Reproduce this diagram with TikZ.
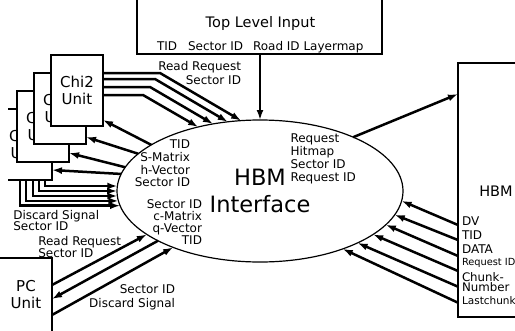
\documentclass[tikz,border=0pt]{standalone}
\usepackage{fontspec}
\setmainfont{DejaVu Sans}
\usetikzlibrary{arrows.meta,shapes.geometric}
\begin{document}
\begin{tikzpicture}[x=1pt,y=-1pt,
  outline/.style={draw, line width=1.3pt, inner sep=0pt, outer sep=0pt},
  unitbox/.style={outline, fill=white, minimum width=52pt, minimum height=71pt,
    align=center, font=\fontsize{15}{17.7}\selectfont},
  flow/.style={line width=2.5pt, -{Latex[length=10pt,width=7pt]}},
  lbl/.style={inner sep=0pt, outer sep=0pt},
  fs/.style={font=\fontsize{12}{#1}\selectfont},
]
\fill[white] (0,0) rectangle (515,330);
\useasboundingbox (0,0) rectangle (515,330);

% ---- top level input block (open at the top edge)
\node[outline, minimum width=245pt, minimum height=61pt] (tli) at (259.5,23.5) {};
\node[lbl, font=\fontsize{14.5}{17}\selectfont, anchor=north] (tlititle) at (260.5,16.3) {Top Level Input};
\node[lbl, font=\fontsize{12}{14}\selectfont, anchor=north west] (tlitid) at (157,41.7) {TID};
\node[lbl, font=\fontsize{12}{14}\selectfont, anchor=north west] (tlisec) at (188,41.7) {Sector ID};
\node[lbl, font=\fontsize{12}{14}\selectfont, anchor=north west] (tliroad) at (253,41.7) {Road ID Layermap};

% ---- HBM memory block (runs off the right edge)
\node[outline, minimum width=72pt, minimum height=254pt] (mem) at (494,190) {};
\node[lbl, font=\fontsize{14.5}{17}\selectfont] (memtitle) at (496,191) {HBM};
\node[lbl, fs=13, anchor=north west] (memdv) at (462,216.7) {DV};
\node[lbl, fs=13, anchor=north west] (memtid) at (462,231) {TID};
\node[lbl, fs=13, anchor=north west] (memdata) at (462,245) {DATA};
\node[lbl, font=\fontsize{9.8}{11}\selectfont, anchor=north west] (memreq) at (462,258.5) {Request ID};
\node[lbl, font=\fontsize{11.8}{10.5}\selectfont, anchor=north west, align=left] (memchunk) at (462,272.3) {Chunk-\\Number};
\node[lbl, font=\fontsize{10.5}{12}\selectfont, anchor=north west] (memlast) at (462,296.4) {Lastchunk};

% ---- stacked Chi2 units, back to front
\node[unitbox, draw=none] (b4) at (26,144.5) {Chi2\\Unit};
\draw[line width=1.3pt] ([xshift=8pt]b4.north west) -- (b4.north east) -- (b4.south east) -- ([xshift=8pt]b4.south west);
\node[unitbox] (b3) at (43,126.5) {Chi2\\Unit};
\node[unitbox] (b2) at (60,108.5) {Chi2\\Unit};
\node[unitbox] (b1) at (77,90.5) {Chi2\\Unit};

% ---- PC unit (runs off the bottom edge)
\node[outline, fill=white, minimum width=56pt, minimum height=80pt] (pc) at (24,298) {};
\node[lbl, align=center, font=\fontsize{15}{17.7}\selectfont, anchor=north] (pctext) at (26,280) {PC\\Unit};

% ---- HBM interface
\node[ellipse, draw, line width=1.2pt, inner sep=0pt, outer sep=0pt,
  minimum width=286pt, minimum height=142pt] (hbm) at (260,191) {};
\node[lbl, align=center, font=\fontsize{22.5}{27}\selectfont] (hbmtitle) at (260,190.6) {HBM\\Interface};

% ---- signal labels
\node[lbl, fs=14, align=right, anchor=north east] (lrq) at (241,61.7) {Read Request\\Sector ID};
\node[lbl, fs=12.7, align=right, anchor=north east] (lres) at (190,140) {TID\\S-Matrix\\h-Vector\\Sector ID};
\node[lbl, fs=13.2, align=left, anchor=north west] (lmem) at (290.5,133.4) {Request\\Hitmap\\Sector ID\\Request ID};
\node[lbl, fs=11.8, align=right, anchor=north east] (lpcres) at (202,200) {Sector ID\\c-Matrix\\q-Vector\\TID};
\node[lbl, fs=11.7, align=left, anchor=north west] (ldis) at (13.3,210) {Discard Signal\\Sector ID};
\node[lbl, fs=11.3, align=left, anchor=north west] (lpcrq) at (38.3,236) {Read Request\\Sector ID};
\node[lbl, fs=13.3, align=right, anchor=north east] (lpcdis) at (175,285) {Sector ID\\Discard Signal};

% ---- connectors
\draw[flow] (tli.south -| hbm.north) -- (hbm.north);
\draw[flow] (hbm.30.1) -- (mem.west |- 0,94);

% read requests from the Chi2 units
\draw[flow] (b1.east |- 0,73) -- (160,73) -- (hbm.105.7);
\draw[flow] (b1.east |- 0,79) -- (155,79) -- (hbm.115.2);
\draw[flow] (b1.east |- 0,87) -- (150,87) -- (hbm.125.5);
\draw[flow] (b1.east |- 0,95) -- (143,95) -- (hbm.134.5);

% results back to the Chi2 units
\draw[flow] (hbm.157.1) -- (b1.east |- 0,120);
\draw[flow] (hbm.163.8) -- (b2.east |- 0,137);
\draw[flow] (hbm.170.5) -- (b3.east |- 0,153);
\draw[flow] (hbm.173.5) -- (b4.east |- 0,170);

% discard signals
\draw[flow] (b4.south -| 45,0) |- (hbm.178.4);
\draw[flow] (b4.south -| 39,0) |- (hbm.180.4);
\draw[flow] (b4.south -| 33,0) |- (hbm.182.4);
\draw[flow] (b4.south -| 26,0) |- (hbm.184.4);
\draw[flow] (b4.south -| 20,0) |- (hbm.186.0);

% PC unit
\draw[flow] (pc.east |- 0,285) -- (hbm.201.3);
\draw[flow] (hbm.206.1) -- (pc.east |- 0,299);
\draw[flow] (pc.east |- 0,315) -- (hbm.213.4);

% memory read data
\draw[flow] (mem.west |- 0,225) -- (hbm.356.4);
\draw[flow] (mem.west |- 0,240) -- (hbm.350.9);
\draw[flow] (mem.west |- 0,256) -- (hbm.345.0);
\draw[flow] (mem.west |- 0,271) -- (hbm.339.1);
\draw[flow] (mem.west |- 0,286.7) -- (hbm.332.5);
\draw[flow] (mem.west |- 0,302.7) -- (hbm.325.2);
\end{tikzpicture}
\end{document}
